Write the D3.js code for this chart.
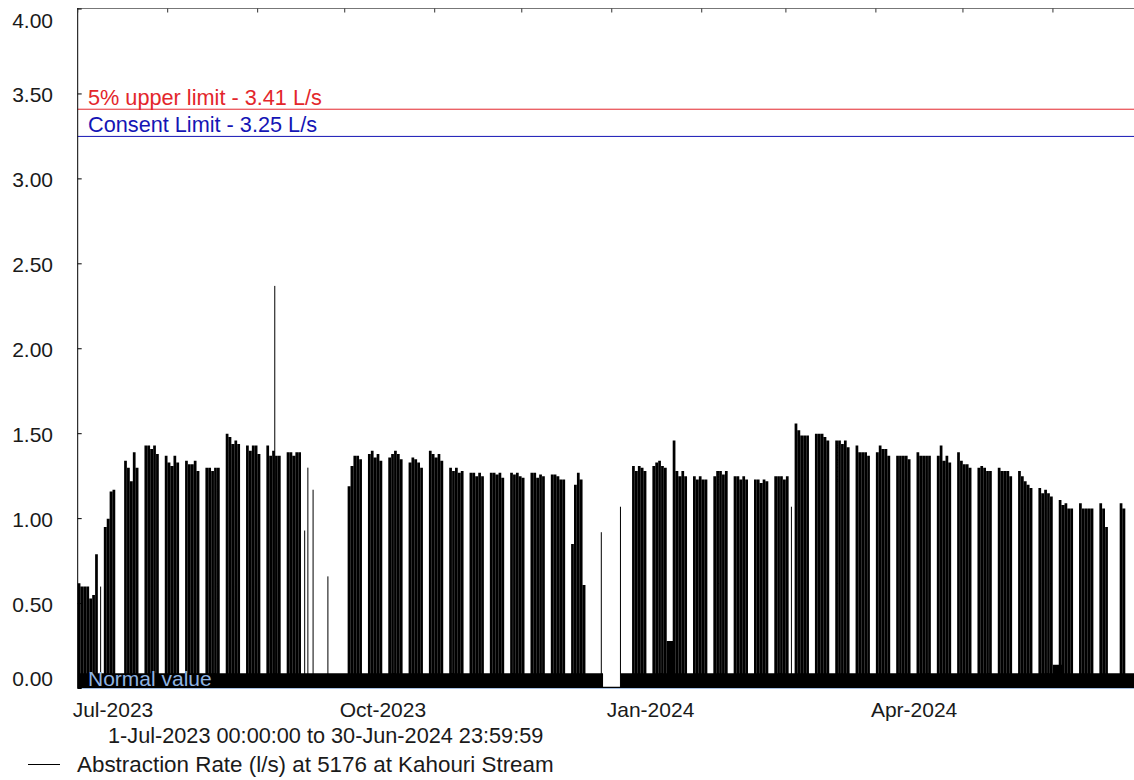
<!DOCTYPE html>
<html>
<head>
    <meta charset="UTF-8">
    <title>Abstraction Rate at 5176 at Kahouri Stream</title>
    <script src="https://d3js.org/d3.v7.min.js"></script>
    <style>
        body {
            margin: 0;
            background: #fff;
            font-family: "Liberation Sans", Arial, sans-serif;
        }
        text {
            font-size: 21px;
            fill: #1a1a1a;
        }
        .big {
            font-size: 21.7px;
        }
    </style>
</head>
<body>
    <svg id="chart"></svg>
    <script>
        const width = 1134;
        const height = 780;

        // period shown: 1-Jul-2023 to 30-Jun-2024
        const startDate = new Date(2023, 6, 1);
        const endDate = new Date(2024, 6, 1);

        // Sat 1 and Sun 2 July
        const leadDays = [0.62, 0.60];

        // daily pumping level (L/s), Mon..Fri, one row per week from Mon 3-Jul-2023
        const weekPeaks = [
            [0.60, 0.60, 0.53, 0.55, 0.79],
            [0.95, 1.00, 1.16, 1.17, 0],
            [1.34, 1.30, 1.22, 1.39, 1.30],
            [1.43, 1.43, 1.41, 1.43, 1.38],
            [1.37, 1.33, 1.31, 1.37, 1.33],
            [1.34, 1.32, 1.32, 1.34, 1.28],
            [1.30, 1.30, 1.28, 1.30, 1.30],
            [1.50, 1.48, 1.44, 1.46, 1.44],
            [1.43, 1.40, 1.43, 1.43, 1.38],
            [1.43, 1.37, 1.40, 1.37, 1.37],
            [1.39, 1.39, 1.37, 1.39, 1.39],
            [0, 0, 0, 0, 0],
            [0, 0, 0, 0, 0],
            [1.19, 1.31, 1.37, 1.37, 1.35],
            [1.38, 1.40, 1.36, 1.38, 1.34],
            [1.36, 1.38, 1.40, 1.38, 1.35],
            [1.33, 1.36, 1.35, 1.33, 1.30],
            [1.40, 1.38, 1.36, 1.38, 1.34],
            [1.30, 1.28, 1.30, 1.27, 1.28],
            [1.27, 1.27, 1.25, 1.27, 1.25],
            [1.27, 1.27, 1.26, 1.27, 1.24],
            [1.27, 1.26, 1.27, 1.25, 1.24],
            [1.27, 1.27, 1.24, 1.26, 1.25],
            [1.26, 1.26, 1.25, 1.23, 1.23],
            [0.85, 1.20, 1.27, 1.23, 0.61],
            [0, 0, 0, 0, 0],
            [0, 0, 0, 0, 0],
            [1.31, 1.28, 1.31, 1.30, 1.28],
            [1.31, 1.33, 1.34, 1.31, 1.30],
            [1.46, 1.28, 1.25, 1.28, 1.25],
            [1.25, 1.23, 1.25, 1.23, 1.23],
            [1.25, 1.28, 1.28, 1.26, 1.28],
            [1.25, 1.25, 1.23, 1.25, 1.23],
            [1.23, 1.23, 1.21, 1.23, 1.22],
            [1.25, 1.25, 1.25, 1.23, 1.25],
            [1.56, 1.52, 1.49, 1.49, 1.49],
            [1.50, 1.50, 1.50, 1.48, 1.46],
            [1.46, 1.46, 1.44, 1.46, 1.42],
            [1.43, 1.39, 1.39, 1.39, 1.37],
            [1.39, 1.43, 1.41, 1.41, 1.37],
            [1.37, 1.37, 1.37, 1.37, 1.35],
            [1.39, 1.37, 1.37, 1.37, 1.37],
            [1.37, 1.43, 1.34, 1.37, 1.33],
            [1.39, 1.34, 1.32, 1.32, 1.30],
            [1.30, 1.31, 1.30, 1.28, 1.28],
            [1.30, 1.28, 1.28, 1.28, 1.25],
            [1.28, 1.25, 1.22, 1.20, 1.18],
            [1.18, 1.15, 1.17, 1.15, 1.13],
            [1.11, 1.08, 1.09, 1.06, 1.06],
            [1.09, 1.06, 1.06, 1.06, 1.06],
            [1.09, 1.06, 0.95, 0, 0],
            [1.09, 1.06, 0, 0, 0]
        ];

        // background level when the pump is idle
        const idleLevel = 0.09;
        const idleStart = [180.8, 202.8, 335.7];
        const idleEnd = [187.2, 205.3, 338.6];
        const idleValue = [0.01, 0.28, 0.14];

        // short isolated spikes: day offset from 1-Jul and value
        const spikeDay = [7.9, 67.9, 78.2, 79.3, 81.1, 86.2, 180.4, 187.0, 245.9];
        const spikeValue = [0.60, 2.37, 0.93, 1.30, 1.17, 0.66, 0.92, 1.07, 1.07];

        const upperLimit = 3.41;
        const consentLimit = 3.25;
        const yTicks = [0, 0.5, 1, 1.5, 2, 2.5, 3, 3.5, 4];
        const xLabelDates = [new Date(2023, 6, 1), new Date(2023, 9, 1), new Date(2024, 0, 1), new Date(2024, 3, 1)];

        const dayMs = 24 * 3600 * 1000;
        const dayToDate = d => new Date(startDate.getTime() + d * dayMs);

        // build the stepped series from the daily levels
        function idleAt(d) {
            for (let i = 0; i < idleStart.length; i++) {
                if (d >= idleStart[i] && d < idleEnd[i]) return idleValue[i];
            }
            return idleLevel;
        }
        const series = [];
        const totalDays = Math.round((endDate - startDate) / dayMs);
        for (let d = 0; d < totalDays; d++) {
            let v = 0;
            if (d < leadDays.length) {
                v = leadDays[d];
            } else {
                const k = Math.floor((d - 2) / 7), j = (d - 2) % 7;
                if (k < weekPeaks.length && j < 5) v = weekPeaks[k][j];
            }
            const base = idleAt(d + 0.5);
            if (v > 0) {
                series.push({ date: dayToDate(d), value: v });
                series.push({ date: dayToDate(d + 0.94), value: base });
            } else {
                series.push({ date: dayToDate(d), value: base });
            }
        }
        series.push({ date: endDate, value: idleLevel });

        const svg = d3.select("#chart")
            .attr("width", width)
            .attr("height", height);

        const x = d3.scaleTime().domain([startDate, endDate]).range([77.7, 1140]);
        const y = d3.scaleLinear().domain([0, 4]).range([688.5, 9]);

        const plot = svg.append("g");

        plot.append("path")
            .datum(series)
            .attr("fill", "#000")
            .attr("d", d3.area()
                .curve(d3.curveStepAfter)
                .x(d => x(d.date))
                .y0(y(0))
                .y1(d => y(d.value)));

        plot.selectAll("line.spike")
            .data(spikeDay)
            .join("line")
            .attr("class", "spike")
            .attr("x1", d => x(dayToDate(d)))
            .attr("x2", d => x(dayToDate(d)))
            .attr("y1", y(0))
            .attr("y2", (d, i) => y(spikeValue[i]))
            .attr("stroke", "#000")
            .attr("stroke-width", 1);

        // limit lines
        plot.append("line")
            .attr("x1", x.range()[0]).attr("x2", width)
            .attr("y1", y(upperLimit)).attr("y2", y(upperLimit))
            .attr("stroke", "#e3262b").attr("stroke-width", 1);
        plot.append("text")
            .attr("class", "big")
            .attr("x", 88).attr("y", y(upperLimit) - 4.5)
            .style("fill", "#e3262b")
            .text("5% upper limit - " + upperLimit.toFixed(2) + " L/s");

        plot.append("line")
            .attr("x1", x.range()[0]).attr("x2", width)
            .attr("y1", y(consentLimit)).attr("y2", y(consentLimit))
            .attr("stroke", "#1515b5").attr("stroke-width", 1);
        plot.append("text")
            .attr("class", "big")
            .attr("x", 88).attr("y", y(consentLimit) - 4.5)
            .style("fill", "#1515b5")
            .text("Consent Limit - " + consentLimit.toFixed(2) + " L/s");

        // normal value line at zero
        plot.append("line")
            .attr("x1", x.range()[0]).attr("x2", width)
            .attr("y1", y(0)).attr("y2", y(0))
            .attr("stroke", "#a6c0e2").attr("stroke-width", 1.2);
        plot.append("text")
            .attr("x", 88).attr("y", y(0) - 2.5)
            .style("fill", "#8fb4e3")
            .text("Normal value");

        // frame
        svg.append("line")
            .attr("x1", x.range()[0]).attr("x2", width)
            .attr("y1", 8.5).attr("y2", 8.5)
            .attr("stroke", "#777");
        svg.append("line")
            .attr("x1", x.range()[0]).attr("x2", x.range()[0])
            .attr("y1", 8).attr("y2", y(0))
            .attr("stroke", "#000");

        // month ticks along the top
        svg.selectAll("line.mtick")
            .data(x.ticks(d3.timeMonth.every(1)))
            .join("line")
            .attr("class", "mtick")
            .attr("x1", d => x(d)).attr("x2", d => x(d))
            .attr("y1", 8.5).attr("y2", 12.5)
            .attr("stroke", "#333");

        // y axis
        svg.selectAll("line.ytick")
            .data(yTicks)
            .join("line")
            .attr("class", "ytick")
            .attr("x1", x.range()[0]).attr("x2", x.range()[0] + 4)
            .attr("y1", d => y(d)).attr("y2", d => y(d))
            .attr("stroke", "#000");

        svg.selectAll("text.ylab")
            .data(yTicks)
            .join("text")
            .attr("class", "ylab")
            .attr("x", 53)
            .attr("y", d => d === 4 ? y(d) + 19 : d === 0 ? y(d) - 2.5 : y(d) + 8)
            .attr("text-anchor", "end")
            .text(d => d.toFixed(2));

        // x labels
        const fmt = d3.timeFormat("%b-%Y");
        svg.selectAll("text.xlab")
            .data(xLabelDates)
            .join("text")
            .attr("class", "xlab")
            .attr("x", d => x(d) - 5)
            .attr("y", 717)
            .text(d => fmt(d));

        svg.append("text")
            .attr("class", "big")
            .attr("x", 108).attr("y", 743)
            .text("1-Jul-2023 00:00:00 to 30-Jun-2024 23:59:59");

        // legend
        svg.append("line")
            .attr("x1", 28).attr("x2", 60)
            .attr("y1", 764.5).attr("y2", 764.5)
            .attr("stroke", "#000");
        svg.append("text")
            .attr("x", 77).attr("y", 772)
            .style("font-size", "22.4px")
            .text("Abstraction Rate (l/s) at 5176 at Kahouri Stream");
    </script>
</body>
</html>
